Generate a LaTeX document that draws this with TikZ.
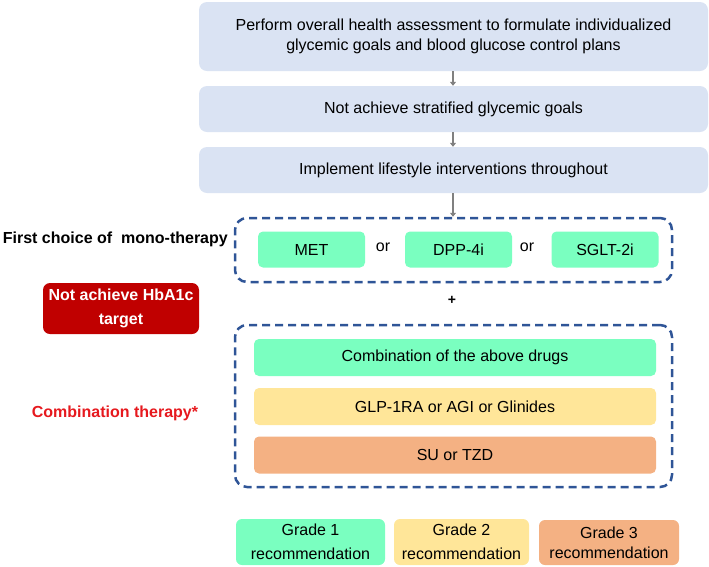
\documentclass[tikz,border=0pt]{standalone}
\usepackage{fontspec}
\setmainfont{Liberation Sans}
\usetikzlibrary{arrows.meta}
\definecolor{lblue}{RGB}{218,227,243}
\definecolor{dgreen}{RGB}{122,255,192}
\definecolor{dyellow}{RGB}{255,230,153}
\definecolor{dorange}{RGB}{244,177,131}
\definecolor{dred}{RGB}{192,0,0}
\definecolor{dashblue}{RGB}{47,85,151}
\definecolor{tred}{RGB}{230,25,30}
\definecolor{agray}{RGB}{128,128,128}
\tikzset{
  topbox/.style={fill=lblue, rounded corners=8pt, minimum width=509pt, align=center, font=\fontsize{16}{20}\selectfont, inner sep=0pt},
  drug/.style={rounded corners=5pt, minimum width=107pt, minimum height=36pt, font=\fontsize{16}{18}\selectfont, inner sep=0pt},
  combo/.style={rounded corners=5pt, minimum width=402pt, minimum height=37pt, font=\fontsize{16}{18}\selectfont, inner sep=0pt},
  grade/.style={rounded corners=6pt, align=center, font=\fontsize{16}{24}\selectfont, inner sep=0pt},
  dashbox/.style={draw=dashblue, line width=2.5pt, dash pattern=on 8pt off 5pt, rounded corners=12pt},
  arr/.style={draw=agray, line width=2pt, -{Triangle[length=4pt,width=6pt]}},
  sidelabel/.style={font=\bfseries\fontsize{16}{18}\selectfont, inner sep=0pt},
  ortext/.style={font=\fontsize{16}{18}\selectfont, inner sep=0pt}
}
\begin{document}
\begin{tikzpicture}[x=1pt,y=-1pt]
\useasboundingbox (0,0) rectangle (709,566);
% top boxes
\node[topbox, minimum height=69pt] (b1) at (453.5,36.5) {Perform overall health assessment to formulate individualized\\glycemic goals and blood glucose control plans};
\node[topbox, minimum height=46pt] (b2) at (453.5,109) {Not achieve stratified glycemic goals};
\node[topbox, minimum height=46pt] (b3) at (453.5,170) {Implement lifestyle interventions throughout};
% mono-therapy group
\node[dashbox, minimum width=437pt, minimum height=64pt] (g1) at (453.5,250) {};
\node[drug, fill=dgreen] (met) at (311.5,249.5) {MET};
\node[drug, fill=dgreen] (dpp) at (458.5,249.5) {DPP-4i};
\node[drug, fill=dgreen] (sglt) at (605,249.5) {SGLT-2i};
\node[ortext] (or1) at (383,247) {or};
\node[ortext] (or2) at (527,247) {or};
\node[sidelabel, anchor=east] (first) at (228,239) {First choice of\ \ mono-therapy};
% arrows
\draw[arr] (b1.south -| 453,0) -- (b2.north -| 453,0);
\draw[arr] (b2.south -| 453,0) -- (b3.north -| 453,0);
\draw[arr, line width=2.6pt] (b3.south -| 453,0) -- (g1.north -| 453,0);
% not achieve
\node[fill=dred, rounded corners=7pt, minimum width=156pt, minimum height=51pt, align=center, text=white, font=\bfseries\fontsize{16}{24}\selectfont, inner sep=0pt] (nah) at (121,308.5) {Not achieve HbA1c\\target};
\node[font=\bfseries\fontsize{14}{16}\selectfont, inner sep=0pt] (plus) at (452,300) {+};
% combination group
\node[dashbox, minimum width=437pt, minimum height=162pt] (g2) at (453.5,406) {};
\node[combo, fill=dgreen] (c1) at (455,357.5) {Combination of the above drugs};
\node[combo, fill=dyellow] (c2) at (455,406.5) {GLP-1RA or AGI or Glinides};
\node[combo, fill=dorange] (c3) at (455,455) {SU or TZD};
\node[sidelabel, text=tred] (ct) at (115,413) {Combination therapy*};
% legend
\node[grade, fill=dgreen, minimum width=149pt, minimum height=46pt] (gr1) at (310.5,542) {Grade 1\\recommendation};
\node[grade, fill=dyellow, minimum width=135pt, minimum height=46pt] (gr2) at (461.5,542) {Grade 2\\recommendation};
\node[grade, fill=dorange, minimum width=140pt, minimum height=45pt, font=\fontsize{16}{20}\selectfont] (gr3) at (609,542.5) {Grade 3\\recommendation};
\end{tikzpicture}
\end{document}
